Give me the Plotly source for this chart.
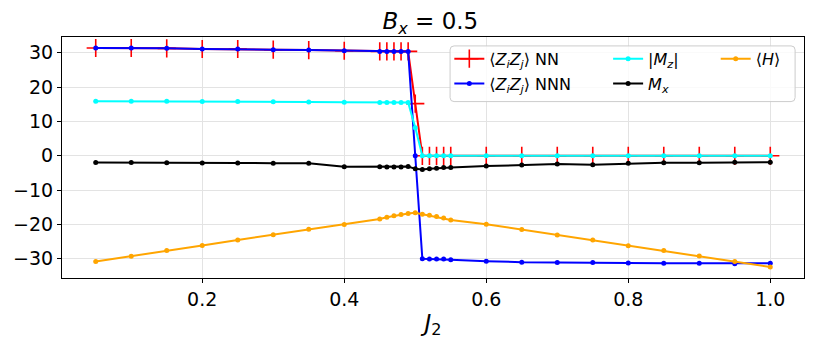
import plotly.graph_objects as go

# J2 grid (dense around the transition at 0.5)
j2 = [0.05, 0.10, 0.15, 0.20, 0.25, 0.30, 0.35, 0.40, 0.45,
      0.46, 0.47, 0.48, 0.49, 0.50, 0.51, 0.52, 0.53, 0.54, 0.55,
      0.60, 0.65, 0.70, 0.75, 0.80, 0.85, 0.90, 0.95, 1.00]

zz_nn = [31.4, 31.4, 31.3, 31.1, 31.1, 30.9, 30.8, 30.6, 30.4,
         30.4, 30.4, 30.4, 30.4, 15.2, 0.0, 0.0, 0.0, 0.0, 0.0,
         0.0, 0.0, 0.0, 0.0, 0.0, 0.0, 0.0, 0.0, 0.0]

zz_nnn = [31.4, 31.4, 31.3, 31.1, 31.1, 30.9, 30.8, 30.6, 30.4,
          30.4, 30.4, 30.4, 30.4, 0.0, -30.0, -30.05, -30.1, -30.1, -30.3,
          -30.7, -31.0, -31.05, -31.05, -31.2, -31.3, -31.3, -31.45, -31.3]

mz_abs = [15.9, 15.9, 15.85, 15.8, 15.8, 15.75, 15.7, 15.6, 15.5,
          15.5, 15.5, 15.5, 15.5, 8.2, 0.0, 0.0, 0.0, 0.0, 0.0,
          0.0, 0.0, 0.0, 0.0, 0.0, 0.0, 0.0, 0.0, 0.0]

mx = [-1.94, -1.94, -2.04, -2.1, -2.07, -2.2, -2.2, -3.2, -3.2,
      -3.3, -3.3, -3.25, -3.1, -3.8, -4.0, -3.8, -3.6, -3.4, -3.4,
      -3.0, -2.7, -2.4, -2.6, -2.2, -2.0, -2.0, -1.85, -1.85]

energy = [-30.8, -29.3, -27.6, -26.1, -24.5, -23.0, -21.4, -20.0, -18.4,
          -17.9, -17.5, -17.1, -16.8, -16.6, -17.0, -17.3, -17.7, -18.1, -18.7,
          -19.95, -21.5, -23.1, -24.5, -26.2, -27.6, -29.2, -30.8, -32.4]

yticks = [-30, -20, -10, 0, 10, 20, 30]
xticks = [0.2, 0.4, 0.6, 0.8, 1.0]

FONT = "DejaVu Sans"

fig = go.Figure()

fig.add_trace(go.Scatter(x=j2, y=zz_nn, mode="lines+markers",
                         name="⟨<i>Z<sub>i</sub>Z<sub>j</sub></i>⟩ NN",
                         legend="legend", legendgroup="nn",
                         line=dict(color="red", width=2),
                         marker=dict(symbol="cross-thin", size=13, color="red",
                                     line=dict(color="red", width=1.6))))
fig.add_trace(go.Scatter(x=j2, y=zz_nnn, mode="lines+markers",
                         name="⟨<i>Z<sub>i</sub>Z<sub>j</sub></i>⟩ NNN",
                         legend="legend", legendgroup="nnn",
                         line=dict(color="blue", width=2),
                         marker=dict(symbol="circle", size=5, color="blue")))
fig.add_trace(go.Scatter(x=j2, y=mz_abs, mode="lines+markers",
                         name="|<i>M<sub>z</sub></i>|",
                         legend="legend2", legendgroup="mz",
                         line=dict(color="cyan", width=2),
                         marker=dict(symbol="circle", size=5, color="cyan")))
fig.add_trace(go.Scatter(x=j2, y=mx, mode="lines+markers",
                         name="<i>M<sub>x</sub></i>",
                         legend="legend2", legendgroup="mx",
                         line=dict(color="black", width=2),
                         marker=dict(symbol="circle", size=5, color="black")))
fig.add_trace(go.Scatter(x=j2, y=energy, mode="lines+markers",
                         name="⟨<i>H</i>⟩",
                         legend="legend3", legendgroup="h",
                         line=dict(color="orange", width=2),
                         marker=dict(symbol="circle", size=5, color="orange")))

# legend frame (rounded box, drawn in paper coords)
x0, x1, y0, y1 = 0.523, 0.988, 0.732, 0.963
rx, ry = 4 / 742, 4 / 241
box = (f"M{x0+rx},{y0} L{x1-rx},{y0} Q{x1},{y0} {x1},{y0+ry} "
       f"L{x1},{y1-ry} Q{x1},{y1} {x1-rx},{y1} L{x0+rx},{y1} "
       f"Q{x0},{y1} {x0},{y1-ry} L{x0},{y0+ry} Q{x0},{y0} {x0+rx},{y0} Z")
fig.add_shape(type="path", path=box, xref="paper", yref="paper",
              fillcolor="rgba(255,255,255,0.8)",
              line=dict(color="#cccccc", width=1), layer="above")

leg = dict(bgcolor="rgba(0,0,0,0)", borderwidth=0, yanchor="top",
           xanchor="left", tracegroupgap=1,
           font=dict(family=FONT, size=16, color="black"))

# page body has an 8px margin, so the figure is 8px smaller and shifted
fig.update_layout(
    width=806, height=338,
    margin=dict(l=54, r=10, t=29, b=68, autoexpand=False),
    paper_bgcolor="white", plot_bgcolor="white",
    font=dict(family=FONT, color="black"),
    title=dict(text="<i>B<sub>x</sub></i> = 0.5", x=0.524, xanchor="center",
               y=0.962, yanchor="middle", font=dict(size=23)),
    legend=dict(leg, x=0.522, y=0.98),
    legend2=dict(leg, x=0.736, y=0.98),
    legend3=dict(leg, x=0.881, y=0.98),
)

fig.update_xaxes(range=[0.0025, 1.0475], tickvals=xticks,
                 ticktext=[f"{v:.1f}" for v in xticks], automargin=False,
                 showline=True, linecolor="black", linewidth=1.2, mirror=True,
                 ticks="outside", ticklen=4, tickcolor="black",
                 showgrid=True, gridcolor="#e3e3e3", gridwidth=1,
                 zeroline=False, tickfont=dict(size=19),
                 title=dict(text="<i>J</i><sub>2</sub>", font=dict(size=23), standoff=5))
fig.update_yaxes(range=[-35.6, 34.6], tickvals=yticks, automargin=False,
                 showline=True, linecolor="black", linewidth=1.2, mirror=True,
                 ticks="outside", ticklen=4, tickcolor="black",
                 showgrid=True, gridcolor="#e3e3e3", gridwidth=1,
                 zeroline=False, tickfont=dict(size=19))

fig.write_html("out.html")
